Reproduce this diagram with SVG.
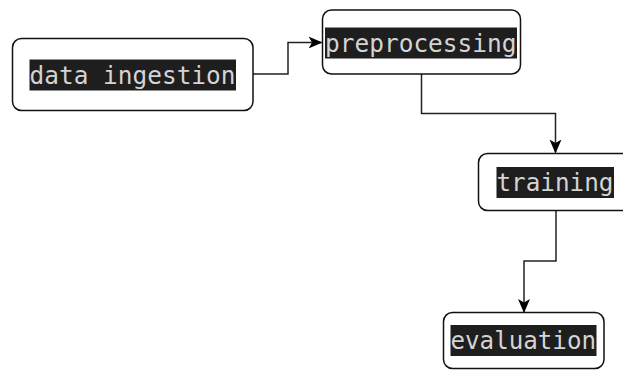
<svg xmlns="http://www.w3.org/2000/svg" width="623" height="370" viewBox="0 0 623 370">
  <style>
    .box { fill: #ffffff; stroke: #111111; stroke-width: 1.5; }
    .hl { fill: #1e1e1e; }
    .lbl { font-family: "DejaVu Sans Mono", "Liberation Mono", monospace; font-size: 25px; fill: #d4d4d4; }
    .edge { fill: none; stroke: #222222; stroke-width: 1.5; }
  </style>
  <defs>
    <marker id="arrow" viewBox="0 0 14 14" refX="13" refY="7" markerWidth="14" markerHeight="14" markerUnits="userSpaceOnUse" orient="auto">
      <path d="M0,1 L14,7 L0,13 L3.5,7 Z" fill="#000000"/>
    </marker>
  </defs>

  <rect width="623" height="370" fill="#ffffff"/>

  <g id="edges">
    <path class="edge" d="M253,74 H288 V42.5 H321.5" marker-end="url(#arrow)"/>
    <path class="edge" d="M421.5,74 V113.5 H555.5 V152.5" marker-end="url(#arrow)"/>
    <path class="edge" d="M556,211 V261 H524 V312" marker-end="url(#arrow)"/>
  </g>

  <g id="data-ingestion">
    <rect class="box" x="12.5" y="38.5" width="240.5" height="72" rx="9"/>
    <rect class="hl" x="29.5" y="59.5" width="206.5" height="31"/>
    <text class="lbl" x="29.5" y="83.7" textLength="206" lengthAdjust="spacingAndGlyphs">data ingestion</text>
  </g>

  <g id="preprocessing">
    <rect class="box" x="322.5" y="10" width="198" height="64" rx="9"/>
    <rect class="hl" x="325" y="27.5" width="192" height="31"/>
    <text class="lbl" x="325" y="51.7" textLength="191.5" lengthAdjust="spacingAndGlyphs">preprocessing</text>
  </g>

  <g id="training">
    <rect class="box" x="478.5" y="153.5" width="170" height="57" rx="9"/>
    <rect class="hl" x="496.5" y="167" width="117.5" height="31"/>
    <text class="lbl" x="496.5" y="191.2" textLength="117" lengthAdjust="spacingAndGlyphs">training</text>
  </g>

  <g id="evaluation">
    <rect class="box" x="443.5" y="312.5" width="160.5" height="56" rx="9"/>
    <rect class="hl" x="450.5" y="325" width="146" height="31"/>
    <text class="lbl" x="450.5" y="349.2" textLength="145.5" lengthAdjust="spacingAndGlyphs">evaluation</text>
  </g>
</svg>
